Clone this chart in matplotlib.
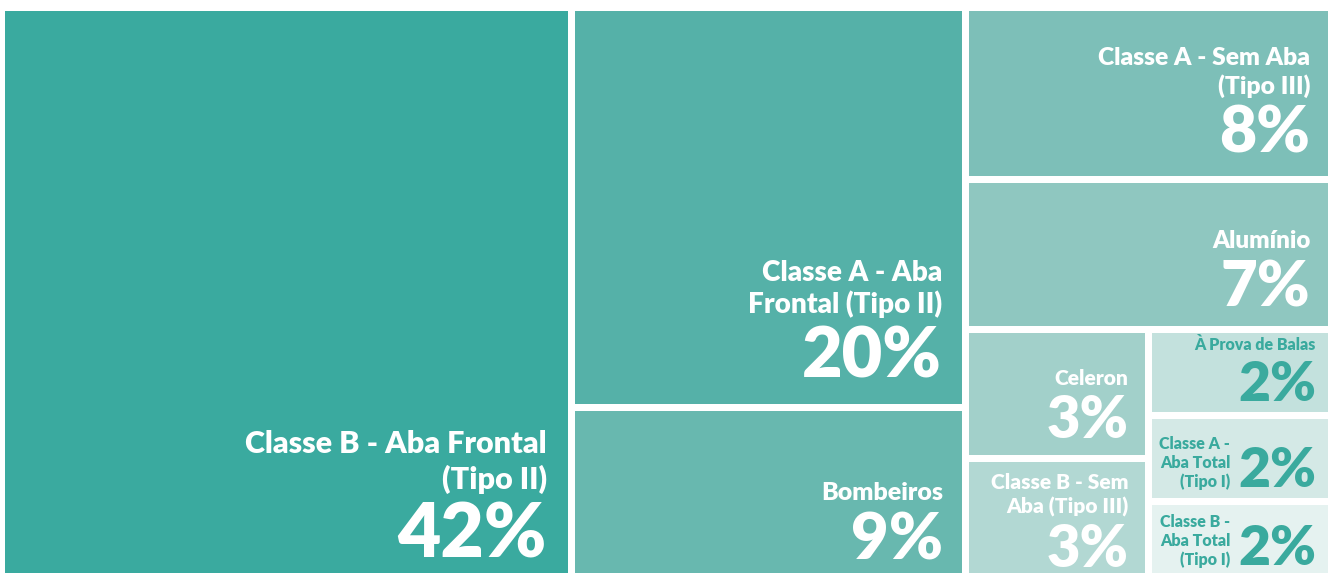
import numpy as np
import matplotlib.pyplot as plt
from matplotlib.patches import Rectangle
from matplotlib.colors import to_rgb

labels = [
    "Classe B - Aba Frontal\n(Tipo II)",
    "Classe A - Aba\nFrontal (Tipo II)",
    "Bombeiros",
    "Classe A - Sem Aba\n(Tipo III)",
    "Alumínio",
    "Celeron",
    "Classe B - Sem\nAba (Tipo III)",
    "À Prova de Balas",
    "Classe A -\nAba Total\n(Tipo I)",
    "Classe B -\nAba Total\n(Tipo I)",
]
shares = [42, 20, 9, 8, 7, 3, 3, 2, 2, 2]
colors = ["#3aaa9f", "#55b1a8", "#68b8af", "#7dbfb8", "#8fc7c0",
          "#a2d0ca", "#b2d8d3", "#c3e1dd", "#d4e9e6", "#e5f2f0"]
dark_text = "#3aaa9e"

# nested slicing: "h" splits left-to-right, "v" splits top-to-bottom
tree = ("h", [0,
              ("v", [1, 2]),
              ("v", [3, 4, ("h", [("v", [5, 6]), ("v", [7, 8, 9])])])])


def total(node):
    if isinstance(node, int):
        return shares[node]
    return sum(total(c) for c in node[1])


def layout(node, x, y, w, h, out):
    if isinstance(node, int):
        out[node] = (x, y, w, h)
        return
    direction, children = node
    t = total(node)
    for child in children:
        f = total(child) / t
        if direction == "h":
            layout(child, x, y, w * f, h, out)
            x += w * f
        else:
            layout(child, x, y, w, h * f, out)
            y += h * f


W, H = 1332, 573
PT = 72 / 100  # px -> pt at dpi 100
FONT = "Lato"
WEIGHT = "heavy"
GAP = 7

fig = plt.figure(figsize=(W / 100, H / 100), dpi=100)
ax = fig.add_axes([0, 0, 1, 1])
ax.set_xlim(0, W)
ax.set_ylim(H, 0)
ax.axis("off")

rects = {}
layout(tree, 1.5, 7.5, 1330, 580, rects)

renderer = fig.canvas.get_renderer()


def put(x, y, s, px, color):
    return ax.text(x, y, s, ha="right", va="baseline", fontsize=px * PT,
                   fontweight=WEIGHT, family=FONT, color=color)


for i in range(len(shares)):
    x, y, w, h = rects[i]
    x0, y0 = x + GAP / 2, y + GAP / 2
    iw, ih = w - GAP, h - GAP
    x1, y1 = x0 + iw, y0 + ih
    ax.add_patch(Rectangle((x0, y0), iw, ih, facecolor=colors[i],
                           edgecolor="none"))

    tc = "white" if np.mean(to_rgb(colors[i])) < 0.81 else dark_text
    small = ih < 100
    size = np.sqrt(iw * ih)
    pct_px = 55 + 12.6 * np.log(size / 117)
    if small:
        lab_px = 0.29 * pct_px
    else:
        lab_px = max(21, 21 + 7 * np.log(size / 146))
    pad_r = (0.22 if small else 0.28) * pct_px
    base = y1 - min(26, 0.14 * ih)
    if small:
        base = min(base, H - 8)
    right = x1 - pad_r

    pct = put(right, base, f"{shares[i]}%", pct_px, tc)
    lines = labels[i].split("\n")
    step = 1.18 * lab_px
    if len(lines) == 3:
        # label sits beside the percentage
        bb = pct.get_window_extent(renderer)
        lx = bb.x0 - 0.14 * pct_px
        for k, line in enumerate(reversed(lines)):
            put(lx, base - k * step, line, lab_px, tc)
    else:
        lb = base - 0.72 * pct_px - 0.2 * pct_px
        for k, line in enumerate(reversed(lines)):
            put(right, lb - k * step, line, lab_px, tc)

fig.savefig("out.png", dpi=100, facecolor="white")
